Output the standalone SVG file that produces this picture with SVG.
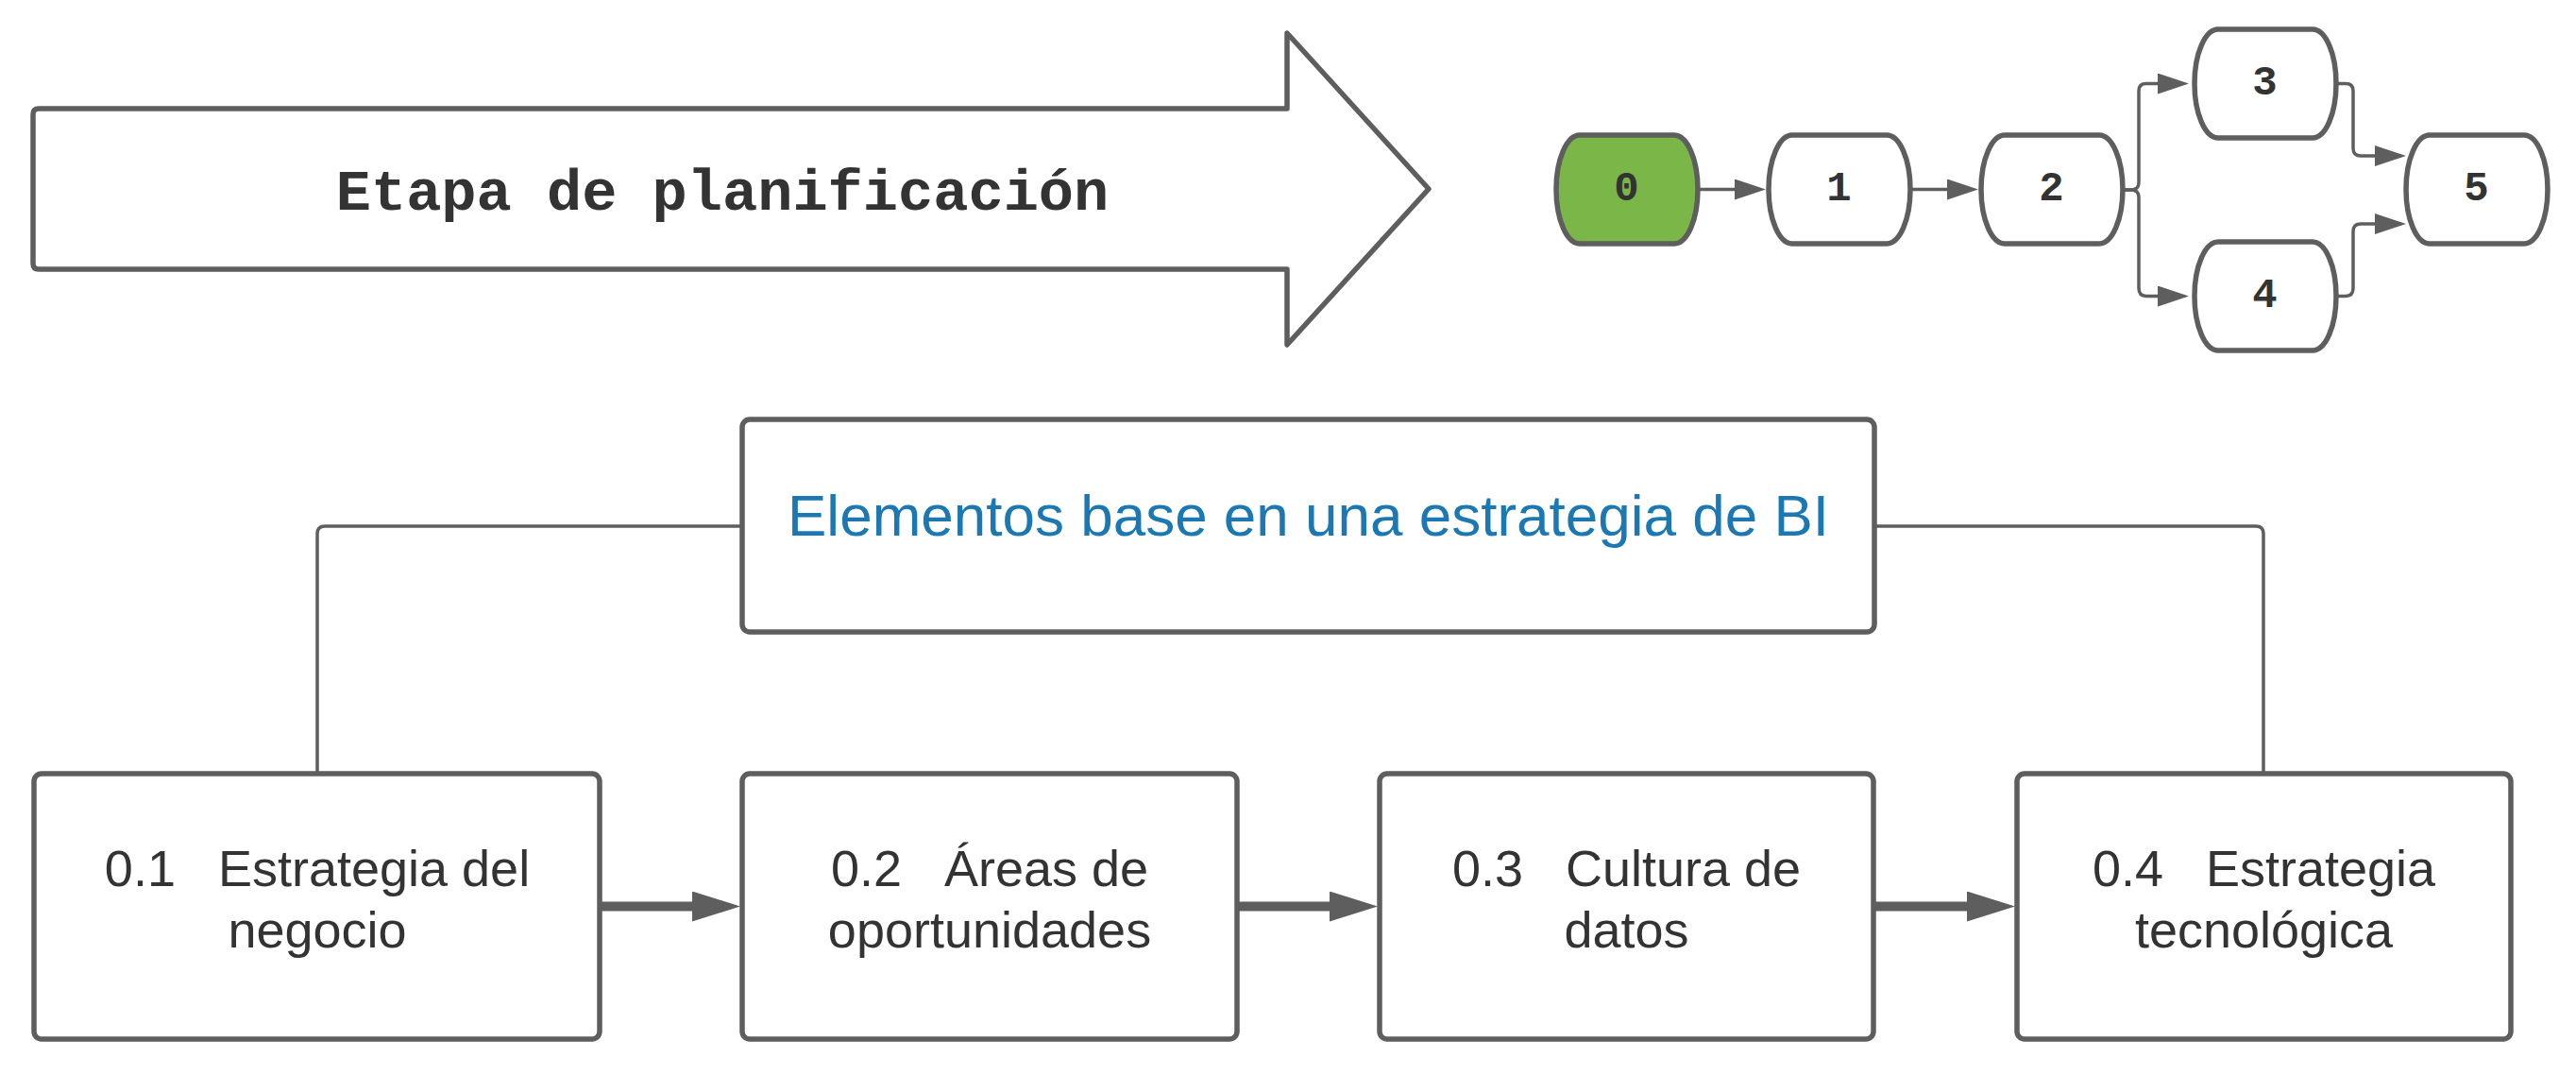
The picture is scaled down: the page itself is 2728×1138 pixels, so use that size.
<svg xmlns="http://www.w3.org/2000/svg" width="2728" height="1138" viewBox="0 0 2728 1138">
<style>
.shape{fill:#ffffff;stroke:#5e5e5e;stroke-width:5.5;stroke-linejoin:round}
.green{fill:#7ab648}
.num{font-family:"Liberation Mono","DejaVu Sans Mono",monospace;font-weight:bold;font-size:44px;fill:#333333;text-anchor:middle}
.head{font-family:"Liberation Mono","DejaVu Sans Mono",monospace;font-weight:bold;font-size:62px;fill:#333333;text-anchor:middle}
.lbl{font-family:"Liberation Sans",Arial,sans-serif;font-size:54px;fill:#333333;text-anchor:middle;white-space:pre}
.title{font-family:"Liberation Sans",Arial,sans-serif;font-size:62px;fill:#1b78b3;text-anchor:middle}
.thin{fill:none;stroke:#5e5e5e;stroke-width:3.5}
.thick{fill:none;stroke:#5e5e5e;stroke-width:10}
</style>
<defs>
<marker id="ah" markerUnits="userSpaceOnUse" markerWidth="34" markerHeight="24" refX="5" refY="11" orient="auto">
<path d="M0,0 L33,11 L0,22 Z" fill="#5e5e5e"/>
</marker>
<marker id="ahb" markerUnits="userSpaceOnUse" markerWidth="52" markerHeight="34" refX="6" refY="16" orient="auto">
<path d="M0,0 L51,16 L0,32 Z" fill="#5e5e5e"/>
</marker>
</defs>
<rect width="2728" height="1138" fill="#ffffff"/>

<g id="etapa">
<path class="shape" d="M41,115 H1363 V35 L1513,200 L1363,365 V285 H41 Q35,285 35,279 V121 Q35,115 41,115 Z"/>
<text class="head" x="765" y="222">Etapa de planificación</text>
</g>

<g id="connectors">
<path class="thin" marker-end="url(#ah)" d="M1799,200.5 H1842"/>
<path class="thin" marker-end="url(#ah)" d="M2024,200.5 H2067"/>
<path class="thin" marker-end="url(#ah)" d="M2249,201 H2257 Q2265,201 2265,193 V96 Q2265,88.5 2273,88.5 H2290"/>
<path class="thin" marker-end="url(#ah)" d="M2249,201 H2257 Q2265,201 2265,209 V305 Q2265,313.5 2273,313.5 H2290"/>
<path class="thin" marker-end="url(#ah)" d="M2475,88.5 H2484 Q2492,88.5 2492,96 V157 Q2492,165 2500,165 H2520"/>
<path class="thin" marker-end="url(#ah)" d="M2475,313.5 H2484 Q2492,313.5 2492,305 V245 Q2492,237 2500,237 H2520"/>
<path class="thin" d="M786,557 H344 Q336,557 336,565 V819"/>
<path class="thin" d="M1985,557 H2389 Q2397,557 2397,565 V819"/>
<path class="thick" marker-end="url(#ahb)" d="M636,959.5 H739"/>
<path class="thick" marker-end="url(#ahb)" d="M1311,959.5 H1414"/>
<path class="thick" marker-end="url(#ahb)" d="M1985,959.5 H2089"/>
</g>

<g id="n0">
<path class="shape green" d="M1673,143 H1773 A25,57.5 0 0 1 1773,258 H1673 A25,57.5 0 0 1 1673,143 Z"/>
<text class="num" x="1722.5" y="212">0</text>
</g>
<g id="n1">
<path class="shape" d="M1898,143 H1998 A25,57.5 0 0 1 1998,258 H1898 A25,57.5 0 0 1 1898,143 Z"/>
<text class="num" x="1947.5" y="212">1</text>
</g>
<g id="n2">
<path class="shape" d="M2123,143 H2223 A25,57.5 0 0 1 2223,258 H2123 A25,57.5 0 0 1 2123,143 Z"/>
<text class="num" x="2172.5" y="212">2</text>
</g>
<g id="n3">
<path class="shape" d="M2349,31 H2449 A25,57.5 0 0 1 2449,146 H2349 A25,57.5 0 0 1 2349,31 Z"/>
<text class="num" x="2398.5" y="100">3</text>
</g>
<g id="n4">
<path class="shape" d="M2349,256 H2449 A25,57.5 0 0 1 2449,371 H2349 A25,57.5 0 0 1 2349,256 Z"/>
<text class="num" x="2398.5" y="325">4</text>
</g>
<g id="n5">
<path class="shape" d="M2573,143 H2673 A25,57.5 0 0 1 2673,258 H2573 A25,57.5 0 0 1 2573,143 Z"/>
<text class="num" x="2622.5" y="212">5</text>
</g>

<g id="elementos">
<rect class="shape" x="786" y="444" width="1199" height="225" rx="8"/>
<text class="title" x="1385.5" y="567">Elementos base en una estrategia de BI</text>
</g>
<g id="b01">
<rect class="shape" x="36" y="819" width="599" height="281" rx="8"/>
<text class="lbl" x="336" y="938" xml:space="preserve">0.1   Estrategia del</text>
<text class="lbl" x="336" y="1003">negocio</text>
</g>
<g id="b02">
<rect class="shape" x="786" y="819" width="524" height="281" rx="8"/>
<text class="lbl" x="1048" y="938" xml:space="preserve">0.2   Áreas de</text>
<text class="lbl" x="1048" y="1003">oportunidades</text>
</g>
<g id="b03">
<rect class="shape" x="1461" y="819" width="523" height="281" rx="8"/>
<text class="lbl" x="1722.5" y="938" xml:space="preserve">0.3   Cultura de</text>
<text class="lbl" x="1722.5" y="1003">datos</text>
</g>
<g id="b04">
<rect class="shape" x="2136" y="819" width="523" height="281" rx="8"/>
<text class="lbl" x="2397.5" y="938" xml:space="preserve">0.4   Estrategia</text>
<text class="lbl" x="2397.5" y="1003">tecnológica</text>
</g>
</svg>
